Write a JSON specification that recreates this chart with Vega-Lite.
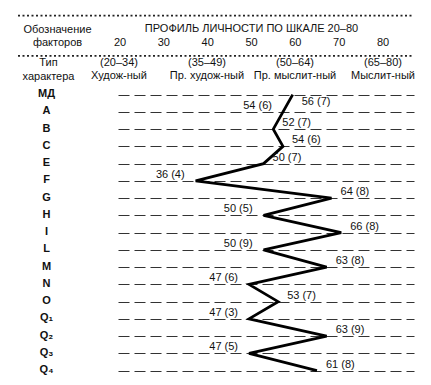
{
  "$schema": "https://vega.github.io/schema/vega-lite/v6.json",
  "background": "white",
  "padding": {"left": 17, "top": 9, "right": 0, "bottom": 0},
  "config": {
    "view": {"stroke": null},
    "font": "Liberation Sans",
    "text": {"font": "Liberation Sans", "fontSize": 11, "color": "#111"}
  },
  "align": "each",
  "bounds": "flush",
  "spacing": 10,
  "resolve": {"scale": {"x": "independent", "y": "independent"}},
  "datasets": {
    "rules": [{"row": "rule1"}, {"row": "rule2"}],
    "title": [{"title": "ПРОФИЛЬ ЛИЧНОСТИ ПО ШКАЛЕ 20–80"}],
    "ticks": [{"score": 20}, {"score": 30}, {"score": 40}, {"score": 50}, {"score": 60}, {"score": 70}, {"score": 80}],
    "groups": [
      {"band": "(20–34)", "type": "Худож-ный"},
      {"band": "(35–49)", "type": "Пр. худож-ный"},
      {"band": "(50–64)", "type": "Пр. мыслит-ный"},
      {"band": "(65–80)", "type": "Мыслит-ный"}
    ],
    "profile": [
      {"factor": "МД", "score": 56, "sten": 7, "label": "56 (7)"},
      {"factor": "A", "score": 54, "sten": 6, "label": "54 (6)"},
      {"factor": "B", "score": 52, "sten": 7, "label": "52 (7)"},
      {"factor": "C", "score": 54, "sten": 6, "label": "54 (6)"},
      {"factor": "E", "score": 50, "sten": 7, "label": "50 (7)"},
      {"factor": "F", "score": 36, "sten": 4, "label": "36 (4)"},
      {"factor": "G", "score": 64, "sten": 8, "label": "64 (8)"},
      {"factor": "H", "score": 50, "sten": 5, "label": "50 (5)"},
      {"factor": "I", "score": 66, "sten": 8, "label": "66 (8)"},
      {"factor": "L", "score": 50, "sten": 9, "label": "50 (9)"},
      {"factor": "M", "score": 63, "sten": 8, "label": "63 (8)"},
      {"factor": "N", "score": 47, "sten": 6, "label": "47 (6)"},
      {"factor": "O", "score": 53, "sten": 7, "label": "53 (7)"},
      {"factor": "Q₁", "score": 47, "sten": 3, "label": "47 (3)"},
      {"factor": "Q₂", "score": 63, "sten": 9, "label": "63 (9)"},
      {"factor": "Q₃", "score": 47, "sten": 5, "label": "47 (5)"},
      {"factor": "Q₄", "score": 61, "sten": 8, "label": "61 (8)"}
    ]
  },
  "vconcat": [
    {
      "width": 296,
      "height": 67,
      "resolve": {"scale": {"x": "independent"}},
      "layer": [
        {
          "data": {"name": "rules"},
          "mark": {"type": "rule", "color": "#222", "strokeDash": [2, 2.5], "strokeWidth": 1.8},
          "encoding": {
            "x": {"datum": "left edge", "type": "nominal", "scale": {"type": "point", "padding": 0, "domain": ["left edge", "right edge"], "range": [-100, 296]}, "axis": null},
            "x2": {"datum": "right edge"},
            "y": {"field": "row", "type": "nominal",
              "scale": {"type": "point", "padding": 0, "domain": ["_top", "rule1", "_a", "r1", "_b", "r2", "_c", "rule2", "r3", "_d", "r4"]},
              "axis": {"title": null, "domain": false, "ticks": false, "grid": false,
                "labelExpr": "datum.value === 'r1' ? 'Обозначение' : datum.value === 'r2' ? 'факторов' : datum.value === 'r3' ? 'Тип' : datum.value === 'r4' ? 'характера' : ''",
                "labelAlign": "center", "labelBaseline": "middle",
                "labelPadding": {"condition": {"test": "datum.value === 'r3' || datum.value === 'r4'", "value": 70}, "value": 61},
                "labelFontSize": {"condition": {"test": "datum.value === 'r1' || datum.value === 'r2' || datum.value === 'r3' || datum.value === 'r4'", "value": 11}, "value": 0},
                "labelFont": "Liberation Sans", "labelColor": "#111"}
            }
          }
        },
        {
          "data": {"name": "title"},
          "mark": {"type": "text", "baseline": "middle", "align": "center"},
          "encoding": {
            "x": {"datum": 50, "type": "quantitative", "scale": {"domain": [20, 80], "range": [2, 265]}, "axis": null},
            "y": {"datum": "r1", "type": "nominal",
              "scale": {"type": "point", "padding": 0, "domain": ["_top", "rule1", "_a", "r1", "_b", "r2", "_c", "rule2", "r3", "_d", "r4"]}},
            "text": {"field": "title"}
          }
        },
        {
          "data": {"name": "ticks"},
          "mark": {"type": "text", "baseline": "middle", "align": "center"},
          "encoding": {
            "x": {"field": "score", "type": "quantitative", "scale": {"domain": [20, 80], "range": [2, 265]}, "axis": null},
            "y": {"datum": "r2", "type": "nominal",
              "scale": {"type": "point", "padding": 0, "domain": ["_top", "rule1", "_a", "r1", "_b", "r2", "_c", "rule2", "r3", "_d", "r4"]}},
            "text": {"field": "score"}
          }
        },
        {
          "data": {"name": "groups"},
          "mark": {"type": "text", "baseline": "middle", "align": "center"},
          "encoding": {
            "x": {"field": "type", "type": "nominal", "sort": null, "scale": {"type": "point", "padding": 0, "range": [1, 265]}, "axis": null},
            "y": {"datum": "r3", "type": "nominal",
              "scale": {"type": "point", "padding": 0, "domain": ["_top", "rule1", "_a", "r1", "_b", "r2", "_c", "rule2", "r3", "_d", "r4"]}},
            "text": {"field": "band"}
          }
        },
        {
          "data": {"name": "groups"},
          "mark": {"type": "text", "baseline": "middle", "align": "center"},
          "encoding": {
            "x": {"field": "type", "type": "nominal", "sort": null, "scale": {"type": "point", "padding": 0, "range": [1, 265]}, "axis": null},
            "y": {"datum": "r4", "type": "nominal",
              "scale": {"type": "point", "padding": 0, "domain": ["_top", "rule1", "_a", "r1", "_b", "r2", "_c", "rule2", "r3", "_d", "r4"]}},
            "text": {"field": "type"}
          }
        }
      ]
    },
    {
      "width": 296,
      "height": 293.25,
      "data": {"name": "profile"},
      "encoding": {
        "x": {"field": "score", "type": "quantitative", "scale": {"domain": [20, 81], "nice": false, "zero": false}, "axis": null},
        "y": {"field": "factor", "type": "nominal",
          "scale": {"type": "point", "padding": 0.5, "domain": ["МД", "A", "B", "C", "E", "F", "G", "H", "I", "L", "M", "N", "O", "Q₁", "Q₂", "Q₃", "Q₄"]},
          "axis": {"title": null, "domain": false, "ticks": false, "grid": true, "gridDash": [11, 5], "gridColor": "#333", "gridWidth": 1.2,
            "labelAlign": "center", "labelBaseline": "middle", "labelPadding": 72, "labelOffset": -1,
            "labelFont": "Liberation Sans", "labelFontSize": 11, "labelFontWeight": "bold", "labelColor": "#111"}
        }
      },
      "layer": [
        {
          "mark": {"type": "line", "color": "#000", "strokeWidth": 2.8, "strokeJoin": "miter"},
          "encoding": {"order": {"value": null}}
        },
        {
          "transform": [{"filter": {"field": "factor", "oneOf": ["B", "C", "E", "G", "I", "M", "O", "Q₂", "Q₄"]}}],
          "mark": {"type": "text", "align": "left", "baseline": "alphabetic", "dx": 9, "dy": -3},
          "encoding": {"text": {"field": "label"}}
        },
        {
          "transform": [{"filter": {"field": "factor", "oneOf": ["A", "F", "H", "L", "N", "Q₁", "Q₃"]}}],
          "mark": {"type": "text", "align": "right", "baseline": "alphabetic", "dx": -11, "dy": -3},
          "encoding": {"text": {"field": "label"}}
        },
        {
          "transform": [{"filter": {"field": "factor", "equal": "МД"}}],
          "mark": {"type": "text", "align": "left", "baseline": "middle", "dx": 9, "dy": 7},
          "encoding": {"text": {"field": "label"}}
        }
      ]
    }
  ]
}
